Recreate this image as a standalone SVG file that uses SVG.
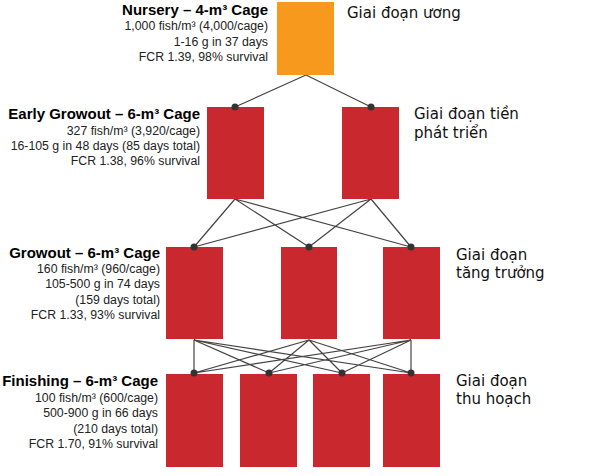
<svg xmlns="http://www.w3.org/2000/svg" width="606" height="476" viewBox="0 0 606 476">
<style>
.red{fill:#c8282e}
.org{fill:#f7991c}
.ln{stroke:#444;stroke-width:1.2;fill:none}
.dot{fill:#333}
.t{font-family:"Liberation Sans",Arial,sans-serif;font-size:12.3px;fill:#222;text-anchor:end}
.h{font-family:"Liberation Sans",Arial,sans-serif;font-size:15px;font-weight:bold;fill:#000;text-anchor:end}
.v{font-family:"DejaVu Sans",Verdana,sans-serif;font-size:15px;fill:#111}
</style>
<rect width="606" height="476" fill="#fff"/>
<g id="connectors">
<path class="ln" d="M306,75L235,107M306,75L371,107"/>
<path class="ln" d="M235,199L194,247M235,199L309,247M235,199L411,247M371,199L194,247M371,199L309,247M371,199L411,247"/>
<path class="ln" d="M194,340L194,373M194,340L269,373M194,340L342,373M194,340L411,373M309,340L194,373M309,340L269,373M309,340L342,373M309,340L411,373M411,340L194,373M411,340L269,373M411,340L342,373M411,340L411,373"/>
</g>
<g id="nursery">
<rect class="org" x="277" y="2" width="57" height="73"/>
<text class="h" x="268" y="15">Nursery – 4-m³ Cage</text>
<text class="t" x="268" y="30">1,000 fish/m³ (4,000/cage)</text>
<text class="t" x="268" y="46">1-16 g in 37 days</text>
<text class="t" x="268" y="61">FCR 1.39, 98% survival</text>
<text class="v" x="347" y="18">Giai đoạn ương</text>
</g>
<g id="early-growout">
<rect class="red" x="207" y="107" width="57" height="92"/>
<rect class="red" x="342" y="107" width="57" height="92"/>
<text class="h" x="200" y="119">Early Growout – 6-m³ Cage</text>
<text class="t" x="200" y="135">327 fish/m³ (3,920/cage)</text>
<text class="t" x="200" y="150">16-105 g in 48 days (85 days total)</text>
<text class="t" x="200" y="165">FCR 1.38, 96% survival</text>
<text class="v" x="414" y="119">Giai đoạn tiền</text>
<text class="v" x="414" y="138">phát triển</text>
</g>
<g id="growout">
<rect class="red" x="166" y="247" width="57" height="92"/>
<rect class="red" x="281" y="247" width="56" height="92"/>
<rect class="red" x="383" y="247" width="57" height="92"/>
<text class="h" x="160" y="258">Growout – 6-m³ Cage</text>
<text class="t" x="160" y="273">160 fish/m³ (960/cage)</text>
<text class="t" x="160" y="288">105-500 g in 74 days</text>
<text class="t" x="160" y="304">(159 days total)</text>
<text class="t" x="160" y="319">FCR 1.33, 93% survival</text>
<text class="v" x="456" y="260">Giai đoạn</text>
<text class="v" x="456" y="278">tăng trưởng</text>
</g>
<g id="finishing">
<rect class="red" x="166" y="374" width="57" height="93"/>
<rect class="red" x="240" y="374" width="57" height="93"/>
<rect class="red" x="313" y="374" width="57" height="93"/>
<rect class="red" x="383" y="374" width="57" height="93"/>
<text class="h" x="158" y="386">Finishing – 6-m³ Cage</text>
<text class="t" x="158" y="402">100 fish/m³ (600/cage)</text>
<text class="t" x="158" y="417">500-900 g in 66 days</text>
<text class="t" x="158" y="433">(210 days total)</text>
<text class="t" x="158" y="448">FCR 1.70, 91% survival</text>
<text class="v" x="456" y="386">Giai đoạn</text>
<text class="v" x="456" y="404">thu hoạch</text>
</g>
<g id="dots">
<circle class="dot" cx="235" cy="107" r="3.5"/>
<circle class="dot" cx="371" cy="107" r="3.5"/>
<circle class="dot" cx="194" cy="247" r="3.5"/>
<circle class="dot" cx="309" cy="247" r="3.5"/>
<circle class="dot" cx="411" cy="247" r="3.5"/>
<circle class="dot" cx="194" cy="373" r="3.5"/>
<circle class="dot" cx="269" cy="373" r="3.5"/>
<circle class="dot" cx="342" cy="373" r="3.5"/>
<circle class="dot" cx="411" cy="373" r="3.5"/>
</g>
</svg>
